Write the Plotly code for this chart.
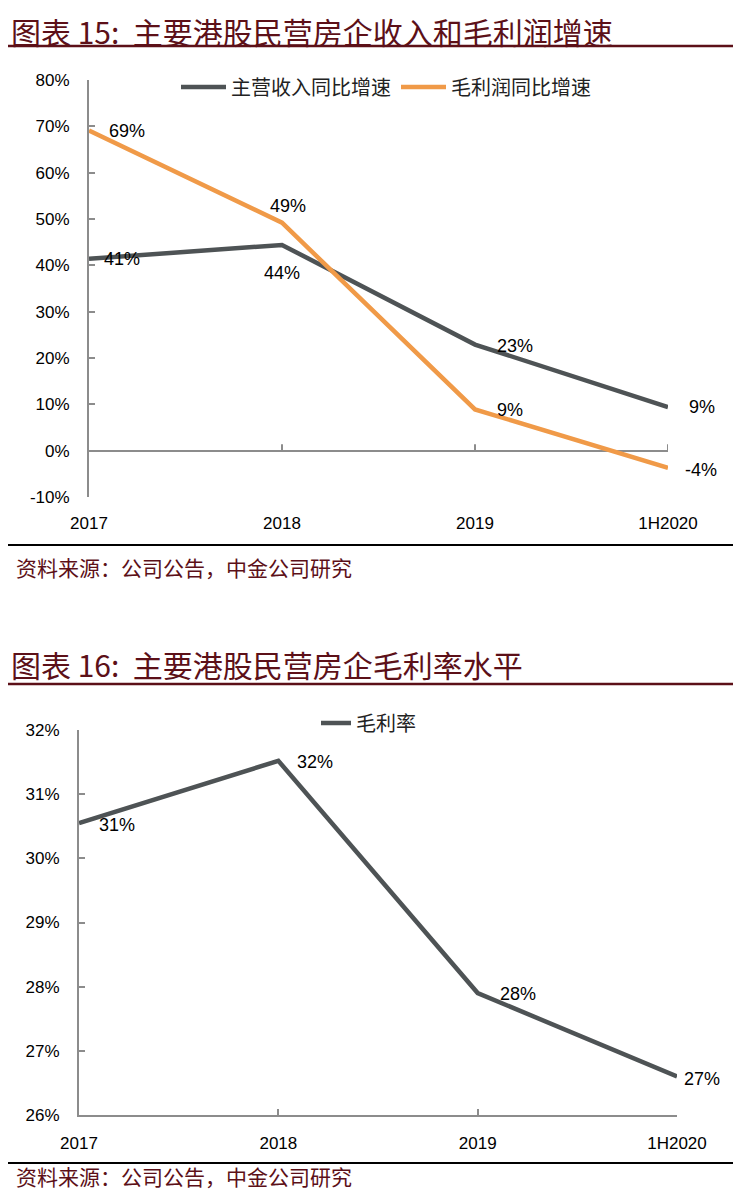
import plotly.graph_objects as go

# data
periods = ["2017", "2018", "2019", "1H2020"]
rev_growth = [0.414, 0.444, 0.229, 0.094]       # 主营收入同比增速
gp_growth = [0.691, 0.492, 0.089, -0.037]       # 毛利润同比增速
gross_margin = [0.3055, 0.3152, 0.2790, 0.2660]  # 毛利率
ticks1 = [-0.1, 0, 0.1, 0.2, 0.3, 0.4, 0.5, 0.6, 0.7, 0.8]
ticks2 = [0.26, 0.27, 0.28, 0.29, 0.30, 0.31, 0.32]

# page has an 8px body margin, so the figure is drawn 8px in from the corner
OFF = 8
W, H = 742 - 2 * OFF, 1198 - 2 * OFF
def py(px):  # page pixel row -> paper y
    return 1 - (px - OFF) / H
def pxx(px):
    return (px - OFF) / W

GRAY = "#4e5355"
ORANGE = "#f09a48"
AXIS = "#8c8c8c"
RED = "#5c1018"
TICKFONT = dict(family="Liberation Sans, Arial", size=17, color="#000")
LABELFONT = dict(family="Liberation Sans, Arial", size=18, color="#000")
CJK = "Noto Sans CJK SC"

fig = go.Figure()
fig.add_trace(go.Scatter(x=periods, y=rev_growth, name="主营收入同比增速",
                         mode="lines", line=dict(color=GRAY, width=4.5),
                         xaxis="x", yaxis="y", legend="legend", cliponaxis=False))
fig.add_trace(go.Scatter(x=periods, y=gp_growth, name="毛利润同比增速",
                         mode="lines", line=dict(color=ORANGE, width=4.5),
                         xaxis="x", yaxis="y", legend="legend", cliponaxis=False))
fig.add_trace(go.Scatter(x=periods, y=gross_margin, name="毛利率",
                         mode="lines", line=dict(color=GRAY, width=4.5),
                         xaxis="x2", yaxis="y2", legend="legend2", cliponaxis=False))

# data labels (offsets in px)
label_sets = [
    ("x", "y", rev_growth, [(33, 0), (0, -28), (40, -1), (34, 0)]),
    ("x", "y", gp_growth, [(38, -1), (6, 17), (35, -1), (33, -2)]),
    ("x2", "y2", gross_margin, [(38, -2), (37, -1), (40, -1), (25, -2)]),
]
for xr, yr, vals, offs in label_sets:
    for i, (v, (dx, dy)) in enumerate(zip(vals, offs)):
        # category index, so "2017" is not read as a number
        fig.add_annotation(x=i, y=v, xref=xr, yref=yr, text=f"{v:.0%}",
                           showarrow=False, xshift=dx, yshift=dy,
                           font=LABELFONT)

axis_common = dict(showgrid=False, zeroline=False, tickfont=TICKFONT,
                   linecolor=AXIS, linewidth=2, ticks="inside",
                   tickcolor=AXIS, tickwidth=2, ticklen=6, automargin=False)

fig.update_layout(
    width=W, height=H, margin=dict(l=0, r=0, t=0, b=0),
    paper_bgcolor="white", plot_bgcolor="white",
    xaxis=dict(domain=[pxx(89), pxx(668)], anchor="y", type="category",
               range=[0, 3], showline=False, ticks="", ticklabelstandoff=14,
               showgrid=False, zeroline=False, tickfont=TICKFONT,
               automargin=False),
    yaxis=dict(domain=[py(497), py(80)], anchor="x", range=[-0.1, 0.8],
               tickvals=ticks1, ticktext=[f"{t:.0%}" for t in ticks1],
               showline=True, zerolinecolor=AXIS, zerolinewidth=2,
               ticklabelstandoff=14,
               **{k: v for k, v in axis_common.items() if k != "zeroline"},
               zeroline=True),
    xaxis2=dict(domain=[pxx(79), pxx(677)], anchor="y2", type="category",
                range=[0, 3], showline=True, ticklabelstandoff=12,
                **axis_common),
    yaxis2=dict(domain=[py(1115), py(730)], anchor="x2", range=[0.26, 0.32],
                tickvals=ticks2, ticktext=[f"{t:.0%}" for t in ticks2],
                showline=True, ticklabelstandoff=14, **axis_common),
    legend=dict(orientation="h", x=pxx(386), xanchor="center", y=py(87),
                yanchor="middle", font=dict(family=CJK, size=20, color="#222"),
                itemwidth=45, bgcolor="rgba(0,0,0,0)"),
    legend2=dict(orientation="h", x=pxx(316), xanchor="left", y=py(723),
                 yanchor="middle", font=dict(family=CJK, size=20, color="#222"),
                 bgcolor="rgba(0,0,0,0)"),
)

# tick marks on the zero line of chart 1
for i in range(1, 4):
    fig.add_shape(type="line", xref="x", yref="y", x0=i, x1=i, y0=0, y1=0.014,
                  line=dict(color=AXIS, width=2))

# titles, rules and source notes
titles = [("图表 15:  主要港股民营房企收入和毛利润增速", 31, 46, 545, 567),
          ("图表 16:  主要港股民营房企毛利率水平", 664, 684, 1163, 1176)]
for text, ty, red_y, black_y, src_y in titles:
    fig.add_annotation(text=text, xref="paper", yref="paper", x=pxx(9),
                       y=py(ty), xanchor="left", yanchor="middle",
                       showarrow=False,
                       font=dict(family=CJK, size=30, color=RED))
    fig.add_shape(type="line", xref="paper", yref="paper", x0=0,
                  x1=pxx(733), y0=py(red_y), y1=py(red_y),
                  line=dict(color=RED, width=2.5))
    fig.add_shape(type="line", xref="paper", yref="paper", x0=pxx(8),
                  x1=pxx(733), y0=py(black_y), y1=py(black_y),
                  line=dict(color="#000", width=2))
    fig.add_annotation(text="资料来源：公司公告，中金公司研究", xref="paper",
                       yref="paper", x=pxx(14), y=py(src_y), xanchor="left",
                       yanchor="middle", showarrow=False,
                       font=dict(family=CJK, size=21, color=RED))

fig.write_html("out.html")
